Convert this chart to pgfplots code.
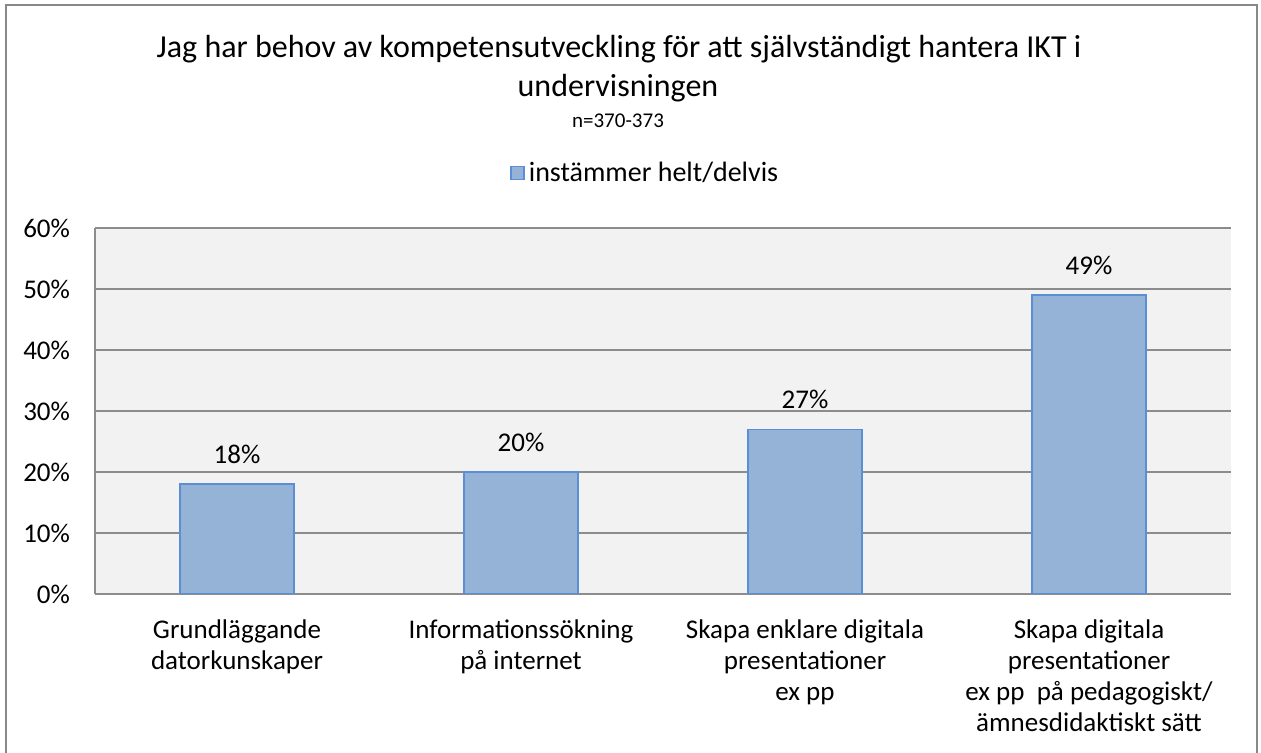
\documentclass[border=0pt]{standalone}
\usepackage{fontspec}
\setmainfont{Carlito}
\usepackage{pgfplots}
\pgfplotsset{compat=1.18}
\definecolor{barfill}{HTML}{95B3D7}
\definecolor{baredge}{HTML}{5B8FD5}
\definecolor{plotbg}{HTML}{F2F2F2}
\definecolor{gridgray}{HTML}{8C8C8C}
\definecolor{framegray}{HTML}{888888}

\begin{document}
\begin{tikzpicture}
% page = 1261 x 753 px at 0.5pt per px
\useasboundingbox (0,0) rectangle (630.5pt,376.5pt);
\draw[framegray, line width=1pt] (3pt,-5pt) rectangle (628.5pt,374pt);

\node[font=\fontsize{16}{19.5}\selectfont, anchor=base]
  at (309.5pt,347.5pt) {Jag har behov av kompetensutveckling för att självständigt hantera IKT i};
\node[font=\fontsize{16}{19.5}\selectfont, anchor=base]
  at (309pt,328.2pt) {undervisningen};
\node[font=\fontsize{10.5}{12}\selectfont, anchor=base]
  at (309pt,312.5pt) {n=370-373};

\begin{axis}[
  at={(47.5pt,79.5pt)}, anchor=south west,
  scale only axis,
  width=568pt, height=183pt,
  xmin=-0.5, xmax=3.5,
  ymin=0, ymax=60,
  ytick={0,10,...,60},
  yticklabel={\pgfmathprintnumber{\tick}\%},
  xtick={0,1,2,3},
  xticklabels={
    {Grundläggande\\datorkunskaper},
    {Informationssökning\\på internet},
    {Skapa enklare digitala\\presentationer\\ex pp},
    {Skapa digitala\\presentationer\\ex pp\ \ på pedagogiskt/\\ämnesdidaktiskt sätt}},
  xticklabel style={align=center, font=\fontsize{13.5}{15.5}\selectfont, anchor=north, yshift=-9.5pt},
  yticklabel style={font=\fontsize{13.5}{15}\selectfont, xshift=-9pt},
  /pgf/number format/assume math mode=true,
  major tick length=0pt,
  axis y line*=left,
  axis x line*=bottom,
  axis line style={gridgray, line width=0.9pt, -},
  ymajorgrids,
  grid style={gridgray, line width=0.9pt},
  axis background/.style={fill=plotbg},
  ybar, bar width=57pt,
  nodes near coords={\pgfmathprintnumber{\pgfplotspointmeta}\%},
  nodes near coords style={font=\fontsize{13.5}{15}\selectfont, yshift=6.5pt},
  legend style={at={(rel axis cs:0.3653,1)}, anchor=west, yshift=27.5pt,
    draw=none, fill=none, inner sep=0pt,
    font=\fontsize{14}{16}\selectfont, legend cell align=left},
  legend image code/.code={\draw[#1, line width=0.75pt] (0pt,-3.25pt) rectangle (6.5pt,3.25pt);},
]
\addplot[fill=barfill, draw=baredge, line width=0.75pt] coordinates {(0,18) (1,20) (2,27) (3,49)};
\addlegendentry{instämmer helt/delvis}
\end{axis}
\end{tikzpicture}
\end{document}
